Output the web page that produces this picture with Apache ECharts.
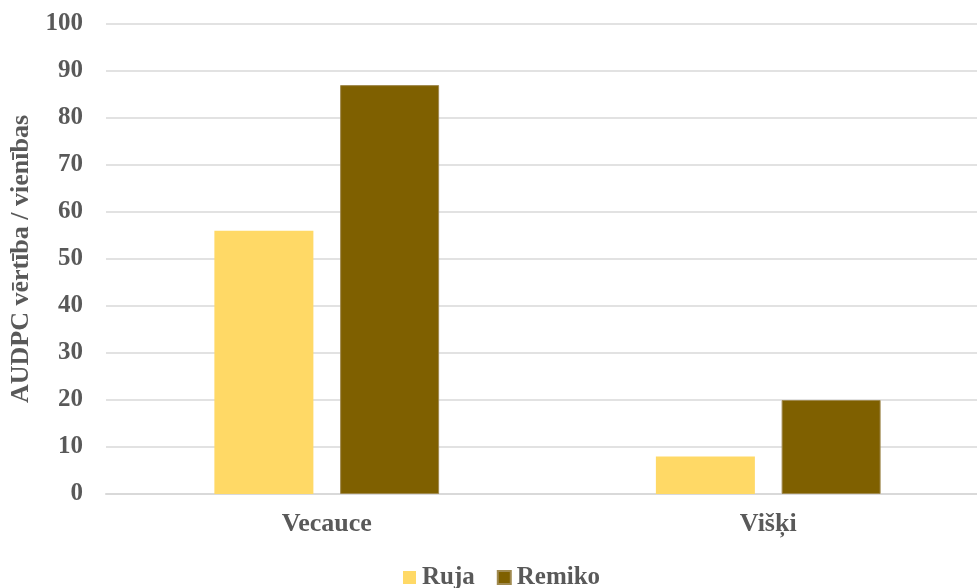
<!DOCTYPE html>
<html>
<head>
<meta charset="utf-8">
<script src="https://cdn.jsdelivr.net/npm/echarts@6/dist/echarts.min.js"></script>
<style>
  html, body { margin: 0; padding: 0; background: #fff; }
  #chart { width: 977px; height: 588px; }
</style>
</head>
<body>
<div id="chart"></div>
<script>
// vietas
var categories = ["Vecauce", "Višķi"]
// šķirnes
var seriesNames = ["Ruja", "Remiko"]
var rujaValues = [56, 8]
var remikoValues = [87, 20]
var yTicks = { min: 0, max: 100, interval: 10 }

var font = "'Liberation Serif', 'Times New Roman', serif"
var textColor = "#595959"

var chart = echarts.init(document.getElementById("chart"))

chart.setOption({
  animation: false,
  textStyle: { fontFamily: font },
  // plot runs a bit past the right edge, as in the original
  grid: { left: 106, width: 883, top: 24, height: 470, outerBoundsMode: "none", containLabel: false },
  legend: {
    top: 560,
    left: 398,
    itemWidth: 13,
    itemHeight: 13,
    itemGap: 22,
    icon: "rect",
    textStyle: { fontFamily: font, fontWeight: "bold", fontSize: 25, color: textColor, padding: [0, 0, 0, 1] },
    data: seriesNames
  },
  xAxis: {
    type: "category",
    data: categories,
    axisTick: { show: false },
    axisLine: { lineStyle: { color: "#d9d9d9", width: 2 } },
    axisLabel: { fontFamily: font, fontWeight: "bold", fontSize: 26, color: textColor, margin: 17 }
  },
  yAxis: {
    type: "value",
    min: yTicks.min,
    max: yTicks.max,
    interval: yTicks.interval,
    name: "AUDPC vērtība / vienības",
    nameLocation: "middle",
    nameGap: 71,
    nameTextStyle: { fontFamily: font, fontWeight: "bold", fontSize: 26, color: textColor },
    axisLine: { show: false },
    axisTick: { show: false },
    splitLine: { lineStyle: { color: "#d9d9d9", width: 1.5 } },
    axisLabel: { fontFamily: font, fontWeight: "bold", fontSize: 25, color: textColor, margin: 23 }
  },
  series: [
    {
      name: seriesNames[0],
      type: "bar",
      data: rujaValues,
      barWidth: 99,
      barGap: "27%",
      itemStyle: { color: "#FFD966" }
    },
    {
      name: seriesNames[1],
      type: "bar",
      data: remikoValues,
      barWidth: 99,
      barGap: "27%",
      itemStyle: { color: "#7F6000", borderColor: "#a08a50", borderWidth: 1 }
    }
  ]
})
</script>
</body>
</html>
